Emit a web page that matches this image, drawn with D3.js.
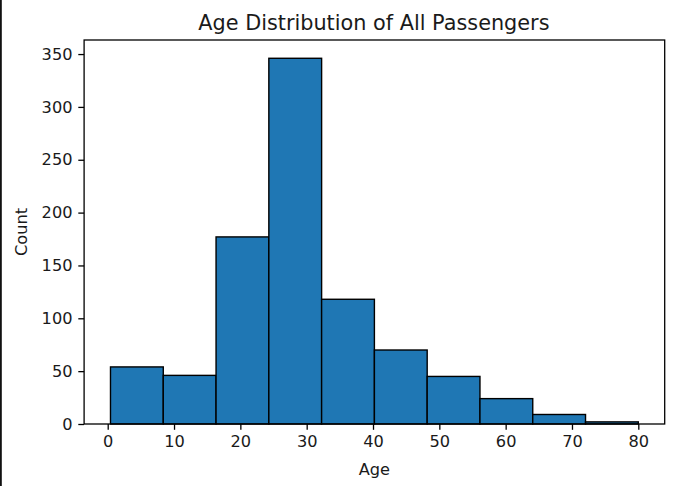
<!DOCTYPE html>
<html>
<head>
<meta charset="utf-8">
<script src="https://cdn.jsdelivr.net/npm/d3@7"></script>
<style>
  html, body { margin: 0; padding: 0; background: #fff; }
  svg { display: block; font-family: "DejaVu Sans", sans-serif; }
</style>
</head>
<body>
<svg id="chart" width="676" height="486"></svg>
<script>
// ---- data ----
const binEdges = [0.42, 8.378, 16.336, 24.294, 32.252, 40.21, 48.168, 56.126, 64.084, 72.042, 80];
const counts = [54, 46, 177, 346, 118, 70, 45, 24, 9, 2];
const xTicks = [0, 10, 20, 30, 40, 50, 60, 70, 80];
const yTicks = [0, 50, 100, 150, 200, 250, 300, 350];
const titleText = "Age Distribution of All Passengers";
const xLabel = "Age";
const yLabel = "Count";

// ---- layout ----
const W = 676, H = 486;
const plot = { left: 84.1, right: 664.7, top: 40, bottom: 424 };

const svg = d3.select("#chart");

// screenshot border line on the left
svg.append("rect").attr("x", 0).attr("y", 0).attr("width", 1.8).attr("height", H).attr("fill", "#111");

const xMin = binEdges[0], xMax = binEdges[binEdges.length - 1];
const xPad = (xMax - xMin) * 0.05;
const x = d3.scaleLinear().domain([xMin - xPad, xMax + xPad]).range([plot.left, plot.right]);
const yMax = d3.max(counts) * 1.05;
const y = d3.scaleLinear().domain([0, yMax]).range([plot.bottom, plot.top]);

const bins = counts.map((c, i) => ({ x0: binEdges[i], x1: binEdges[i + 1], count: c }));

// bars
svg.append("g").selectAll("rect").data(bins).join("rect")
  .attr("x", d => x(d.x0))
  .attr("y", d => y(d.count))
  .attr("width", d => x(d.x1) - x(d.x0))
  .attr("height", d => y(0) - y(d.count))
  .attr("fill", "#1f77b4")
  .attr("stroke", "#000")
  .attr("stroke-width", 1.4);

// axes
const fontPx = 16.2;
const textColor = "#1a1a1a";
const xAxis = d3.axisBottom(x).tickValues(xTicks).tickSize(5.8).tickPadding(5.8).tickFormat(d3.format("d"));
const yAxis = d3.axisLeft(y).tickValues(yTicks).tickSize(5.8).tickPadding(5.8).tickFormat(d3.format("d"));

const gx = svg.append("g").attr("transform", `translate(0,${plot.bottom})`).call(xAxis);
const gy = svg.append("g").attr("transform", `translate(${plot.left},0)`).call(yAxis);
[gx, gy].forEach(g => {
  g.select(".domain").remove();
  g.selectAll(".tick line").attr("stroke", "#000").attr("stroke-width", 1.3);
  g.selectAll(".tick text").attr("fill", textColor).style("font-size", fontPx + "px").style("font-family", "DejaVu Sans");
});

// spines
svg.append("rect")
  .attr("x", plot.left).attr("y", plot.top)
  .attr("width", plot.right - plot.left).attr("height", plot.bottom - plot.top)
  .attr("fill", "none").attr("stroke", "#000").attr("stroke-width", 1.3);

// labels
svg.append("text")
  .attr("x", (plot.left + plot.right) / 2).attr("y", 474.5)
  .attr("text-anchor", "middle").style("font-size", fontPx + "px").attr("fill", textColor)
  .text(xLabel);

svg.append("text")
  .attr("transform", `translate(27,${(plot.top + plot.bottom) / 2}) rotate(-90)`)
  .attr("text-anchor", "middle").style("font-size", fontPx + "px").attr("fill", textColor)
  .text(yLabel);

svg.append("text")
  .attr("x", (plot.left + plot.right) / 2 - 0.5).attr("y", 30)
  .attr("text-anchor", "middle").style("font-size", "20.8px").attr("fill", textColor)
  .text(titleText);
</script>
</body>
</html>
